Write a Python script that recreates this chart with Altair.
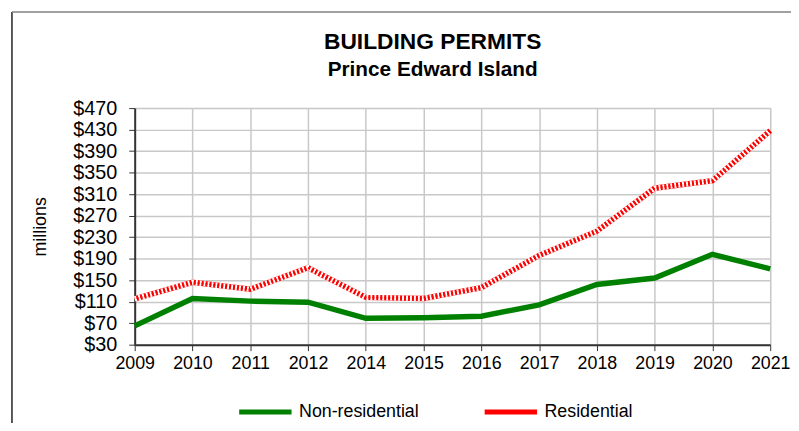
import altair as alt
import pandas as pd

years = ["2009", "2010", "2011", "2012", "2014", "2015", "2016", "2017", "2018", "2019", "2020", "2021"]
non_residential = [65, 116, 111, 109, 79, 80, 83, 104, 142, 154, 198, 171]
residential = [115, 146, 133, 173, 118, 116, 136, 196, 241, 321, 335, 428]
series_names = ["Non-residential", "Residential"]
y_ticks = [30, 70, 110, 150, 190, 230, 270, 310, 350, 390, 430, 470]

rows = []
for i, y in enumerate(years):
    rows.append({"year": y, "series": series_names[0], "value": non_residential[i]})
    rows.append({"year": y, "series": series_names[1], "value": residential[i]})
df = pd.DataFrame(rows)
df_res = df[df["series"] == "Residential"]

FONT = "Liberation Sans"

x_enc = alt.X(
    "year:O", sort=years, title=None,
    scale=alt.Scale(type="point", padding=0),
    axis=alt.Axis(labelAngle=0, labelFontSize=18, labelColor="black", labelFont=FONT,
                  grid=True, gridColor="#c8c8c8", gridWidth=1.5, labelOverlap=False,
                  domainColor="#333333", domainWidth=2, tickColor="#333333", tickSize=6,
                  labelPadding=4),
)
y_enc = alt.Y(
    "value:Q", title="millions",
    scale=alt.Scale(domain=[30, 470], nice=False, zero=False),
    axis=alt.Axis(values=y_ticks, tickCount=len(y_ticks), labelExpr="'$' + datum.value",
                  labelFontSize=20, labelOverlap=False, labelFlush=False,
                  labelColor="black", labelFont=FONT, grid=True, gridColor="#c8c8c8",
                  gridWidth=1.5, domainColor="#333333", domainWidth=2, tickColor="#333333",
                  tickSize=6, titleFontSize=18, titleFont=FONT, titleFontWeight="normal",
                  titleColor="black", titlePadding=24, labelPadding=12),
)

lines = alt.Chart(df).mark_line(strokeWidth=5.5, strokeCap="butt").encode(
    x=x_enc, y=y_enc,
    color=alt.Color("series:N", sort=series_names,
                    scale=alt.Scale(domain=series_names, range=["#008000", "#ff0000"]),
                    legend=alt.Legend(title=None, orient="none", legendX=103, legendY=278,
                                      direction="horizontal", symbolType="stroke",
                                      symbolStrokeWidth=5, symbolSize=2800,
                                      labelFontSize=18, labelFont=FONT, labelColor="black",
                                      columnPadding=55, labelOffset=5)),
    detail="series:N",
)

# checkerboard texture for the residential line
check_white = alt.Chart(df_res).mark_line(strokeWidth=5.5, color="white", strokeDash=[2, 2],
                                          strokeCap="butt").encode(
    x=alt.X("year:O", sort=years), y="value:Q",
)
check_red = alt.Chart(df_res).mark_line(strokeWidth=1.9, color="#ff0000", strokeDash=[2, 2],
                                        strokeDashOffset=2, strokeCap="butt").encode(
    x=alt.X("year:O", sort=years), y="value:Q",
)

frame_data = pd.DataFrame({"a": [0]})
left_border = alt.Chart(frame_data).mark_rule(color="#222222", strokeWidth=1.5, clip=False).encode(
    x=alt.value(-124), y=alt.value(-97), y2=alt.value(330),
)
top_border = alt.Chart(frame_data).mark_rule(color="#808080", strokeWidth=1.5, clip=False).encode(
    x=alt.value(-124), x2=alt.value(670), y=alt.value(-97),
)

chart = alt.layer(lines, check_white, check_red, left_border, top_border).properties(
    width=642, height=239,
    title=alt.TitleParams("BUILDING PERMITS", subtitle="Prince Edward Island",
                          fontSize=23, subtitleFontSize=21, subtitleFontWeight="bold",
                          font=FONT, subtitleFont=FONT, color="black", subtitleColor="black",
                          anchor="middle", frame="group", dx=-20, offset=-69, subtitlePadding=5),
    autosize=alt.AutoSizeParams(type="none"),
    padding={"left": 128, "top": 99, "right": 21, "bottom": 77},
).configure_view(stroke="#808080", strokeWidth=2).configure(background="white")

chart.save("out.html", embed_options={"renderer": "svg", "actions": False})
